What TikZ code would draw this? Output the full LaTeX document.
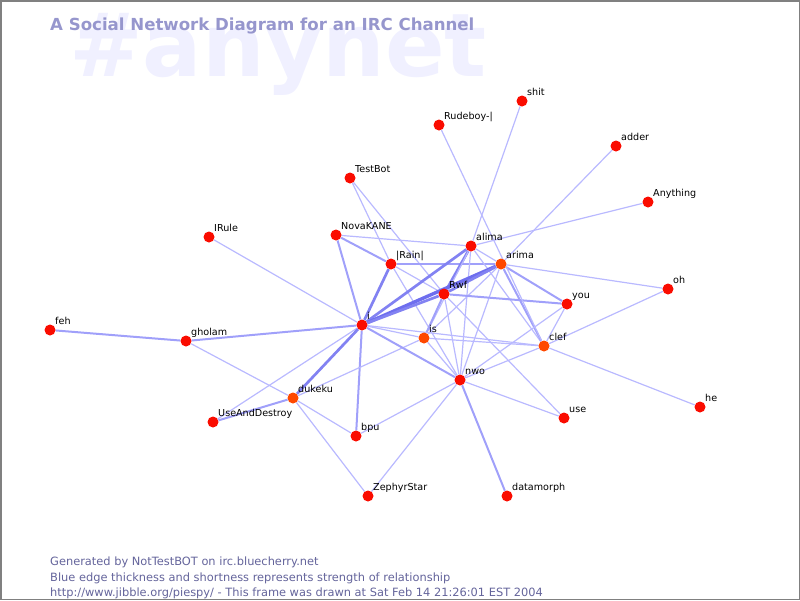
\documentclass[tikz,border=0pt]{standalone}
\usepackage{fontspec}
\setmainfont{DejaVu Sans}
\usetikzlibrary{backgrounds}

\definecolor{nodered}{RGB}{250,12,0}
\definecolor{nodeorange}{RGB}{255,72,0}
\definecolor{tiethin}{RGB}{185,185,255}
\definecolor{tiemid}{RGB}{160,160,250}
\definecolor{tiethick}{RGB}{130,130,242}
\definecolor{tieheavy}{RGB}{110,110,238}
\definecolor{titleblue}{RGB}{150,150,205}
\definecolor{logoblue}{RGB}{240,240,255}
\definecolor{footblue}{RGB}{100,100,155}
\definecolor{framegray}{RGB}{128,128,128}

\begin{document}
\begin{tikzpicture}[x=1pt, y=-1pt,
    dot/.style={circle, inner sep=0pt, minimum size=11pt, fill=nodered},
    hot/.style={dot, fill=nodeorange},
    nick/.style={font=\fontsize{9.6}{10}\selectfont, inner sep=1pt, text depth=0pt},
    tie1/.style={draw=tiethin, line width=1.2pt},
    tie2/.style={draw=tiemid, line width=2pt},
    tie3/.style={draw=tiethick, line width=2.7pt},
    tie4/.style={draw=tieheavy, line width=3.4pt},
    foot/.style={anchor=base west, inner sep=0pt, text=footblue, font=\fontsize{11.4}{13}\selectfont}]
  \useasboundingbox (0,0) rectangle (800,600);
  \draw[framegray, line width=1.5pt] (0.75,0.75) rectangle (799.25,599.25);

  % background name and title
  \node[anchor=base west, inner sep=0pt, text=logoblue, font=\fontsize{88}{90}\bfseries] (logo) at (69,76) {\#anynet};
  \node[anchor=base west, inner sep=0pt, text=titleblue, font=\fontsize{16.6}{18}\bfseries] (title) at (50,30) {A Social Network Diagram for an IRC Channel};

  % nicks
  \foreach \n/\px/\py/\s/\t in {shit/522/101/dot/shit, rudeboy/439/125/dot/Rudeboy-|,
      adder/616/146/dot/adder, testbot/350/178/dot/TestBot, anything/648/202/dot/Anything,
      irule/209/237/dot/IRule, novakane/336/235/dot/NovaKANE, alima/471/246/dot/alima,
      rain/391/264/dot/|Rain|, arima/501/264/hot/arima, rwf/444/294/dot/Rwf,
      you/567/304/dot/you, oh/668/289/dot/oh, feh/50/330/dot/feh,
      gholam/186/341/dot/gholam, i/362/325/dot/i, is/424/338/hot/is,
      clef/544/346/hot/clef, nwo/460/380/dot/nwo, dukeku/293/398/hot/dukeku,
      useanddestroy/213/422/dot/UseAndDestroy, bpu/356/436/dot/bpu, use/564/418/dot/use,
      he/700/407/dot/he, zephyrstar/368/496/dot/ZephyrStar, datamorph/507/496/dot/datamorph}
    \node[\s, label={[nick]45:\t}] (\n) at (\px,\py) {};

  % relationships
  \begin{pgfonlayer}{background}
    \foreach \a/\b/\w in {feh/gholam/2, gholam/i/2, gholam/dukeku/1, irule/i/1,
        i/useanddestroy/1, useanddestroy/dukeku/2, i/dukeku/3, i/bpu/2,
        dukeku/bpu/1, dukeku/zephyrstar/1, dukeku/is/1, novakane/i/2,
        novakane/rain/2, novakane/alima/1, testbot/rain/1, testbot/rwf/1,
        rain/i/3, rain/arima/2, rain/rwf/1, rain/nwo/1, alima/i/3, alima/rwf/3,
        alima/arima/1, alima/nwo/1, alima/clef/1, alima/is/1, alima/anything/1,
        alima/shit/1, arima/i/4, arima/rwf/3, arima/you/2, arima/clef/2,
        arima/oh/1, arima/adder/1, arima/is/1, arima/nwo/1, rwf/i/3, rwf/you/2,
        rwf/is/2, rwf/nwo/1, rwf/use/1, i/is/1, i/nwo/2, i/clef/1, is/clef/1,
        is/nwo/1, clef/you/1, clef/nwo/1, clef/he/1, clef/oh/1, nwo/you/1,
        nwo/use/1, nwo/bpu/1, nwo/zephyrstar/1, nwo/datamorph/2, rudeboy/clef/1}
      \draw[tie\w] (\a) -- (\b);
  \end{pgfonlayer}

  % footer
  \node[foot] (gen) at (50,565) {Generated by NotTestBOT on irc.bluecherry.net};
  \node[foot] (legend) at (50,581) {Blue edge thickness and shortness represents strength of relationship};
  \node[foot] (stamp) at (50,596) {http://www.jibble.org/piespy/ - This frame was drawn at Sat Feb 14 21:26:01 EST 2004};
\end{tikzpicture}
\end{document}
